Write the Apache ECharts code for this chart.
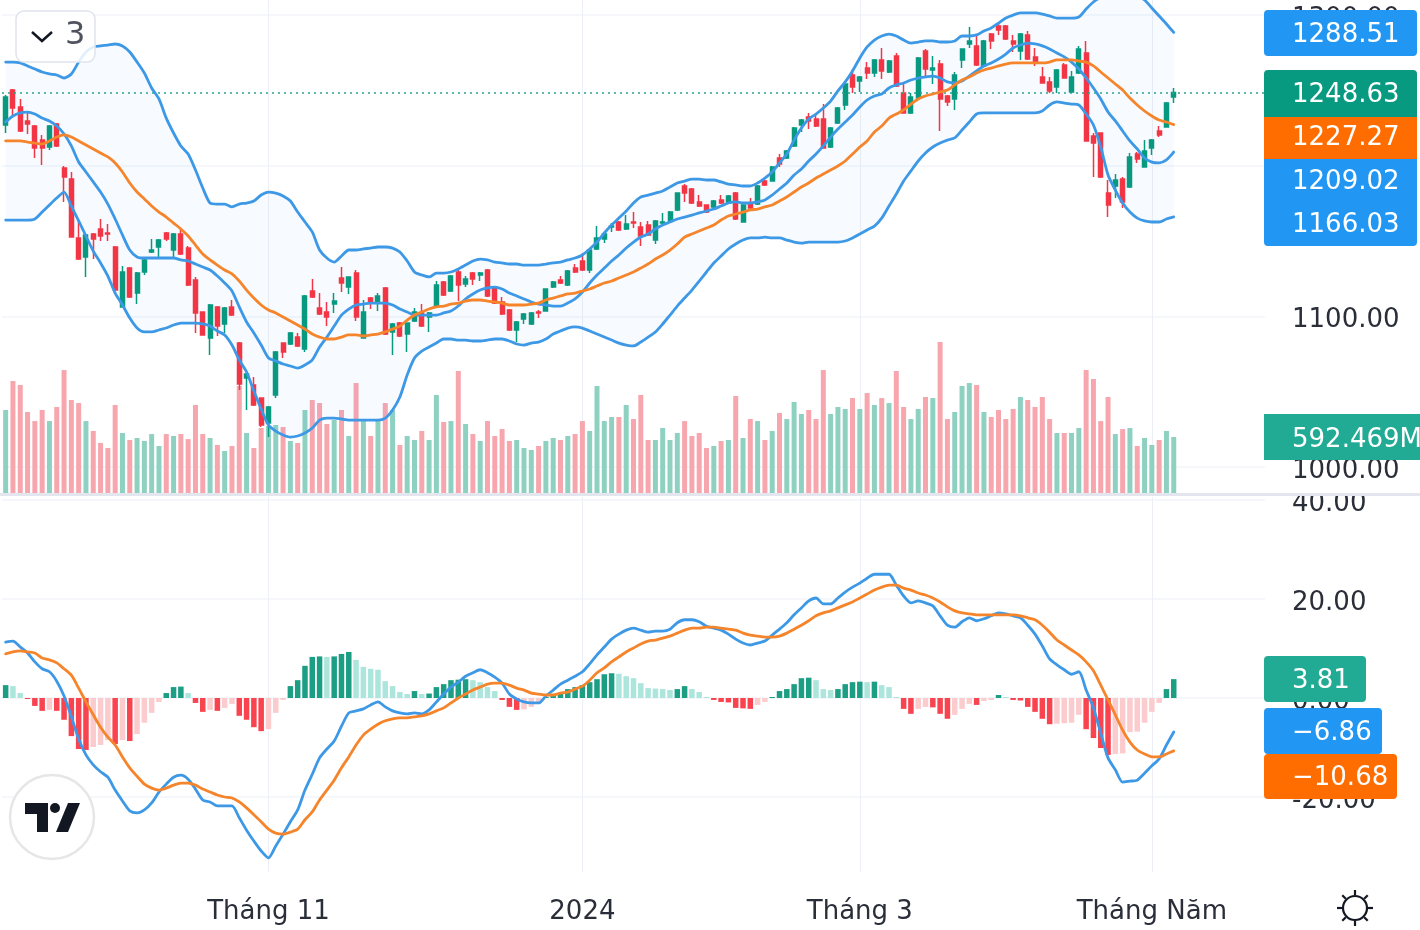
<!DOCTYPE html>
<html>
<head>
<meta charset="utf-8">
<title>VNINDEX</title>
<script src="https://cdn.jsdelivr.net/npm/echarts@6/dist/echarts.min.js"></script>
<style>
  html, body { margin: 0; padding: 0; background: #fff; }
  #chart { width: 1420px; height: 930px; filter: blur(0.5px); }
</style>
</head>
<body>
<div id="chart"></div>
<script>
const tickLabels = { 36: "Tháng 11", 79: "2024", 117: "Tháng 3", 157: "Tháng Năm" };
const priceTicks = [1000, 1100, 1200, 1300];
const macdTicks = [-20, 0, 20, 40];

const opens = [
  1227, 1250.2, 1239, 1229.7, 1226.3, 1217, 1212.4, 1227.7, 1198.4, 1191.1,
  1152, 1139.4, 1154.6, 1158, 1155.3, 1146, 1106.2, 1132, 1115.4, 1129.4,
  1142.7, 1146, 1155.3, 1144, 1154.6, 1145.3, 1124.1, 1102.8, 1085.6, 1106.2,
  1094.9, 1106.2, 1082.2, 1059, 1054.4, 1045.7, 1029.1, 1047.7, 1082.2, 1081.6,
  1086.2, 1078.3, 1116.8, 1105.5, 1102.8, 1108.1, 1125.4, 1119.4, 1128.7, 1085.6,
  1112.1, 1109.5, 1118.8, 1089.6, 1095.5, 1088.2, 1096.9, 1102.2, 1099.5, 1106.8,
  1122.8, 1116.8, 1129.4, 1121.4, 1128.7, 1127.4, 1130.7, 1119.4, 1109.5, 1104.2,
  1090.9, 1098.2, 1094.9, 1102.8, 1103.5, 1119.4, 1124.1, 1120.8, 1132, 1136.7,
  1130.7, 1144.7, 1151.3, 1159.3, 1162.6, 1158, 1162.6, 1159.3, 1160.6, 1150.6,
  1161.9, 1163.3, 1170.6, 1186.5, 1184.5, 1175.9, 1173.9, 1172.6, 1177.2, 1175.2,
  1181.8, 1162.6, 1175.2, 1174.5, 1189.8, 1189.8, 1205.1, 1205.1, 1213.1, 1227,
  1232.3, 1231, 1231, 1212.4, 1228.3, 1240.3, 1260.2, 1256.2, 1264.8, 1261.5,
  1270.2, 1262.2, 1272.8, 1248.2, 1235, 1244.9, 1276.1, 1263.5, 1267.5, 1246.3,
  1244.3, 1270.2, 1280.8, 1279.5, 1266.2, 1287.4, 1292.7, 1292.7, 1282.8, 1276.1,
  1286.8, 1272.2, 1258.9, 1255.6, 1252.2, 1266.8, 1248.9, 1261.5, 1274.8, 1219.7,
  1221.7, 1181.8, 1186.5, 1191.1, 1185.8, 1207.7, 1199.1, 1211.7, 1223, 1225.7,
  1245.6,
];
const closes = [
  1245.6, 1238.3, 1223, 1227.7, 1211.7, 1211.7, 1226.3, 1213.1, 1192.5, 1152.6,
  1138, 1154, 1151.3, 1153.3, 1154.6, 1117.4, 1129.4, 1112.8, 1128.7, 1137.4,
  1144, 1150.6, 1151.3, 1154.6, 1141.3, 1120.8, 1102.2, 1087.6, 1107.5, 1093.5,
  1105.5, 1100.8, 1055, 1061.7, 1041.1, 1027.8, 1039.8, 1076.3, 1076.3, 1088.9,
  1080.3, 1113.5, 1112.8, 1101.5, 1099.5, 1110.1, 1122.1, 1126.1, 1099.5, 1102.8,
  1108.8, 1113.5, 1088.2, 1094.9, 1086.9, 1095.5, 1102.8, 1093.5, 1102.2, 1120.8,
  1114.1, 1126.7, 1120.8, 1124.7, 1124.7, 1128.7, 1113.5, 1108.8, 1101.5, 1090.9,
  1096.2, 1101.5, 1102.2, 1102.2, 1118.1, 1122.8, 1122.1, 1130, 1129.4, 1130.7,
  1144, 1152, 1154.6, 1159.9, 1157.3, 1161.3, 1161.9, 1153.3, 1154, 1163.3,
  1162.6, 1169.2, 1181.8, 1181.8, 1175.2, 1173.2, 1169.2, 1176.5, 1175.2, 1179.9,
  1164.6, 1173.9, 1171.9, 1186.5, 1187.2, 1199.1, 1201.1, 1209.7, 1225, 1230.3,
  1229.7, 1226.3, 1211.7, 1225, 1238.3, 1254.2, 1252.2, 1258.9, 1261.5, 1270.2,
  1262.9, 1269.5, 1252.9, 1235, 1245.6, 1271.5, 1264.2, 1264.8, 1244.3, 1242.3,
  1260.2, 1277.5, 1282.8, 1266.8, 1282.8, 1282.8, 1290.1, 1284.1, 1280.8, 1287.4,
  1270.8, 1268.2, 1254.9, 1249.6, 1263.5, 1258.2, 1258.9, 1277.5, 1216.4, 1215,
  1192.5, 1173.9, 1190.5, 1175.9, 1205.8, 1204.4, 1209.7, 1217, 1220.4, 1241.6,
  1248.63,
];
const highs = [
  1246.9, 1250.9, 1244.3, 1235, 1227, 1220.4, 1227, 1228.3, 1199.8, 1195.8,
  1163.9, 1154.6, 1155.3, 1164.6, 1161.3, 1146.7, 1133.4, 1132.7, 1129.4, 1138,
  1151.3, 1151.3, 1156, 1155.3, 1157.3, 1146.7, 1126.1, 1102.8, 1108.1, 1106.8,
  1106.2, 1110.8, 1082.9, 1062.3, 1059.7, 1045.7, 1040.4, 1076.9, 1082.2, 1089.6,
  1088.9, 1114.1, 1124.7, 1115.4, 1109.5, 1115.4, 1132.7, 1126.1, 1130.7, 1110.8,
  1112.8, 1115.4, 1119.4, 1095.5, 1096.2, 1095.5, 1105.5, 1108.1, 1102.8, 1123.4,
  1123.4, 1127.4, 1130.7, 1126.7, 1129.4, 1129.4, 1131.4, 1120.1, 1112.8, 1104.8,
  1096.9, 1102.2, 1102.8, 1104.2, 1118.1, 1123.4, 1126.7, 1130.7, 1134.7, 1142,
  1144.7, 1159.9, 1155.3, 1161.9, 1163.3, 1167.2, 1169.2, 1162.6, 1163.3, 1163.9,
  1168.6, 1169.9, 1181.8, 1187.8, 1185.2, 1180.5, 1173.9, 1177.2, 1180.5, 1180.5,
  1182.5, 1174.5, 1178.5, 1187.2, 1190.5, 1199.8, 1207.7, 1210.4, 1225.7, 1231,
  1235, 1233.6, 1240.9, 1225.7, 1239, 1254.9, 1264.2, 1259.5, 1268.8, 1270.8,
  1278.1, 1270.2, 1274.8, 1254.9, 1248.2, 1272.2, 1277.5, 1272.8, 1270.2, 1246.9,
  1262.2, 1277.5, 1292.1, 1287.4, 1283.4, 1288.1, 1294.7, 1293.4, 1286.8, 1288.1,
  1289.4, 1278.1, 1265.5, 1258.9, 1264.2, 1268.2, 1262.9, 1279.5, 1282.8, 1221.7,
  1221.7, 1190.5, 1194.5, 1192.5, 1208.4, 1209.1, 1217, 1217.7, 1226.3, 1242.3,
  1251.6,
];
const lows = [
  1221.7, 1233.6, 1222.4, 1221, 1205.1, 1200.4, 1210.4, 1212.4, 1175.9, 1152.6,
  1137.4, 1126.1, 1138, 1150, 1150, 1116.8, 1106.2, 1112.1, 1108.1, 1127.4,
  1142, 1139.4, 1150, 1139.4, 1140.7, 1120.1, 1088.9, 1087.6, 1074.3, 1086.9,
  1088.9, 1100.2, 1051, 1037.8, 1040.4, 1026.5, 1019.8, 1045.7, 1072.3, 1080.9,
  1079.6, 1076.3, 1112.1, 1100.8, 1093.5, 1102.2, 1116.1, 1114.8, 1096.9, 1085.6,
  1104.8, 1103.5, 1087.6, 1074.3, 1086.2, 1076.3, 1096.2, 1092.9, 1089.6, 1106.2,
  1113.5, 1116.1, 1110.1, 1119.4, 1120.8, 1123.4, 1112.8, 1108.1, 1100.8, 1090.2,
  1082.9, 1094.9, 1094.2, 1098.8, 1103.5, 1118.8, 1121.4, 1120.1, 1128.7, 1130,
  1128.7, 1144, 1148.6, 1156, 1156.6, 1157.3, 1158.6, 1146.7, 1153.3, 1148,
  1161.3, 1162.6, 1169.9, 1175.9, 1174.5, 1172.6, 1168.6, 1171.9, 1174.5, 1175.2,
  1163.9, 1162.6, 1171.2, 1173.9, 1186.5, 1189.8, 1199.1, 1204.4, 1212.4, 1222.4,
  1224.3, 1225.7, 1211.7, 1211.7, 1227.7, 1237, 1248.2, 1248.9, 1257.5, 1258.9,
  1257.5, 1261.5, 1252.2, 1235, 1234.3, 1244.3, 1258.9, 1254.2, 1223, 1239.6,
  1237, 1264.8, 1278.1, 1266.2, 1265.5, 1277.5, 1286.8, 1283.4, 1275.5, 1270.2,
  1270.2, 1266.2, 1254.9, 1248.2, 1248.2, 1258.2, 1248.2, 1260.9, 1216.4, 1192.5,
  1191.8, 1165.9, 1178.5, 1171.9, 1185.2, 1201.8, 1199.1, 1207.1, 1219, 1225.7,
  1241.6,
];
const bandUpper = [
  1268.8, 1268.8, 1268.2, 1266.2, 1264.2, 1262.2, 1260.9, 1260.2, 1258.2, 1260.9,
  1268.8, 1275.5, 1278.8, 1279.5, 1280.1, 1280.8, 1279.5, 1275.5, 1268.8, 1261.5,
  1251.6, 1244.3, 1231.6, 1221.7, 1213.1, 1207.7, 1197.1, 1185.2, 1175.2, 1174.5,
  1174.5, 1172.6, 1174.5, 1175.2, 1176.5, 1180.5, 1182.5, 1181.8, 1179.9, 1176.5,
  1169.2, 1162.6, 1156, 1144, 1138.7, 1136, 1140, 1144, 1144, 1144.7,
  1145.3, 1146, 1146, 1145.3, 1142.7, 1136.7, 1129.4, 1127.4, 1126.1, 1128.7,
  1128.7, 1129.4, 1131.4, 1134, 1136.7, 1138, 1137.4, 1136, 1135.4, 1134.7,
  1134.7, 1134, 1134, 1134, 1134.7, 1135.4, 1136, 1137.4, 1138.7, 1140.7,
  1144.7, 1149.3, 1155.3, 1160.6, 1165.2, 1169.9, 1175.2, 1179.2, 1180.5, 1181.8,
  1183.2, 1185.8, 1188.5, 1189.8, 1191.1, 1191.1, 1190.5, 1190.5, 1189.2, 1187.8,
  1187.2, 1186.5, 1186.5, 1188.5, 1191.8, 1195.8, 1201.8, 1207.7, 1217, 1225,
  1231, 1234.3, 1238.3, 1242.9, 1249.6, 1255.6, 1262.9, 1271.5, 1278.8, 1283.4,
  1286.1, 1287.4, 1286.1, 1283.4, 1281.4, 1282.1, 1282.8, 1282.8, 1282.1, 1282.1,
  1282.8, 1286.1, 1286.1, 1286.8, 1289.4, 1291.4, 1294.7, 1298, 1300, 1301.4,
  1301.4, 1301.4, 1300.7, 1299.4, 1298, 1298, 1298, 1298.7, 1304, 1308.7,
  1312, 1315.3, 1316.6, 1316.6, 1315.3, 1312.7, 1310, 1304.7, 1299.4, 1294.1,
  1288.51,
];
const bandBasis = [
  1216.4, 1216.4, 1216.4, 1215.7, 1215, 1214.4, 1216.4, 1219, 1220.4, 1219,
  1216.4, 1213.7, 1211.1, 1208.4, 1205.8, 1201.8, 1195.8, 1188.5, 1182.5, 1177.9,
  1173.2, 1169.2, 1165.9, 1161.9, 1158, 1153.3, 1147.3, 1141.3, 1137.4, 1134,
  1130.7, 1128.1, 1123.4, 1117.4, 1112.1, 1107.5, 1104.2, 1102.2, 1099.5, 1096.9,
  1094.2, 1091.5, 1088.2, 1086.2, 1084.9, 1084.9, 1086.2, 1087.6, 1087.6, 1086.9,
  1087.6, 1088.2, 1089.6, 1091.5, 1093.5, 1097.5, 1100.8, 1102.8, 1104.8, 1106.2,
  1106.8, 1108.1, 1108.8, 1110.1, 1110.8, 1110.8, 1110.1, 1109.5, 1108.8, 1107.5,
  1107.5, 1107.5, 1108.1, 1108.8, 1110.8, 1112.1, 1113.5, 1114.8, 1115.4, 1116.8,
  1118.1, 1120.1, 1122.1, 1123.4, 1125.4, 1127.4, 1129.4, 1132, 1134.7, 1138,
  1140.7, 1144, 1148, 1152.6, 1154.6, 1156.6, 1158.6, 1160.6, 1163.9, 1166.6,
  1167.9, 1169.2, 1170.6, 1171.2, 1172.6, 1173.9, 1176.5, 1179.2, 1182.5, 1185.8,
  1188.5, 1191.8, 1194.5, 1197.1, 1199.8, 1203.1, 1207.7, 1212.4, 1216.4, 1222.4,
  1226.3, 1231.6, 1234.3, 1237, 1240.9, 1244.3, 1246.3, 1247.6, 1248.9, 1250.2,
  1253.6, 1256.9, 1258.9, 1261.5, 1263.5, 1264.8, 1266.2, 1267.5, 1268.2, 1268.2,
  1268.2, 1268.2, 1268.2, 1268.8, 1270.2, 1270.2, 1270.2, 1269.5, 1268.8, 1266.2,
  1262.2, 1258.2, 1254.2, 1250.2, 1244.9, 1240.3, 1236.3, 1233, 1230.3, 1229,
  1227.27,
];
const bandLower = [
  1163.9, 1163.9, 1163.9, 1163.9, 1164.6, 1169.2, 1173.9, 1178.5, 1182.5, 1173.2,
  1163.3, 1153.3, 1143.3, 1135.4, 1126.7, 1115.4, 1107.5, 1098.8, 1092.2, 1089.6,
  1089.6, 1090.9, 1092.2, 1094.2, 1095.5, 1095.5, 1095.5, 1094.9, 1093.5, 1090.2,
  1087.6, 1080.9, 1071, 1063, 1050.4, 1038.4, 1027.8, 1023.8, 1021.2, 1019.8,
  1020.5, 1022.5, 1025.8, 1031.1, 1032.4, 1032.4, 1031.8, 1031.1, 1031.1, 1031.1,
  1031.1, 1031.1, 1032.4, 1037.8, 1046.4, 1061, 1072.3, 1076.9, 1079.6, 1082.2,
  1084.9, 1084.9, 1084.2, 1084.2, 1083.6, 1083.6, 1084.2, 1084.9, 1084.9, 1083.6,
  1081.6, 1080.9, 1082.2, 1082.9, 1084.9, 1088.2, 1090.2, 1092.2, 1092.9, 1092.2,
  1090.2, 1088.2, 1086.2, 1084.2, 1082.2, 1080.9, 1080.3, 1082.9, 1086.2, 1089.6,
  1094.9, 1100.8, 1106.8, 1112.1, 1117.4, 1123.4, 1129.4, 1135.4, 1140, 1144.7,
  1148, 1150.6, 1152, 1152, 1152.6, 1152, 1152, 1150.6, 1149.3, 1148.6,
  1149.3, 1149.3, 1149.3, 1149.3, 1149.3, 1150, 1152, 1154.6, 1157.3, 1159.9,
  1165.2, 1173.2, 1181.2, 1189.8, 1196.5, 1203.1, 1208.4, 1212.4, 1215, 1217,
  1218.4, 1223.7, 1229, 1234.3, 1235, 1235, 1235, 1235, 1235, 1235,
  1235, 1235, 1236.3, 1240.3, 1242.3, 1241.6, 1240.9, 1240.3, 1234.3, 1227,
  1212.4, 1193.8, 1183.8, 1175.2, 1169.2, 1165.2, 1163.3, 1162.6, 1162.6, 1164.6,
  1166.03,
];
const innerLine = [
  1229, 1233, 1235, 1235.6, 1234.3, 1231.6, 1229.7, 1226.3, 1221, 1213.1,
  1202.4, 1195.8, 1189.2, 1182.5, 1174.5, 1164.6, 1154, 1144, 1139.4, 1138.7,
  1138.7, 1138.7, 1138.7, 1138.7, 1137.4, 1136.7, 1134.7, 1132.7, 1130.7, 1126.7,
  1122.1, 1116.8, 1106.2, 1096.2, 1088.9, 1080.9, 1072.3, 1070.3, 1068.3, 1067,
  1065.6, 1067.6, 1071, 1079.6, 1086.2, 1093.5, 1100.8, 1104.8, 1107.5, 1108.1,
  1108.8, 1108.8, 1108.8, 1107.5, 1104.8, 1102.8, 1100.8, 1100.8, 1100.8, 1100.8,
  1102.2, 1103.5, 1106.8, 1111.5, 1114.8, 1117.4, 1118.8, 1119.4, 1118.1, 1115.4,
  1113.5, 1111.5, 1109.5, 1108.1, 1107.5, 1106.8, 1106.8, 1108.8, 1111.5, 1116.1,
  1122.1, 1127.4, 1132, 1136.7, 1140.7, 1145.3, 1149.3, 1152.6, 1154.6, 1158,
  1160.6, 1162.6, 1164.6, 1165.9, 1167.2, 1168.6, 1169.9, 1171.2, 1173.2, 1175.2,
  1175.9, 1175.2, 1175.2, 1175.9, 1177.2, 1180.5, 1184.5, 1188.5, 1193.8, 1197.8,
  1203.1, 1207.7, 1213.1, 1219, 1224.3, 1229, 1233.6, 1239, 1243.6, 1246.3,
  1247.6, 1251.6, 1253.6, 1254.9, 1256.9, 1258.2, 1258.9, 1259.5, 1258.2, 1255.6,
  1254.9, 1256.2, 1259.5, 1262.9, 1266.2, 1268.2, 1270.8, 1274.1, 1278.1, 1280.1,
  1281.4, 1280.8, 1279.5, 1277.5, 1274.8, 1272.2, 1268.8, 1264.2, 1258.2, 1251.6,
  1244.3, 1235.6, 1229.7, 1223, 1216.4, 1211.1, 1205.1, 1202.4, 1201.8, 1203.8,
  1209.02,
];
const volumes = [
  873, 1174, 1133, 852, 758, 873, 758, 904, 1288, 977,
  945, 758, 655, 530, 478, 925, 634, 561, 582, 551,
  623, 499, 623, 603, 623, 571, 925, 623, 582, 509,
  447, 499, 1122, 634, 478, 686, 706, 717, 696, 551,
  530, 873, 977, 945, 727, 769, 873, 603, 1153, 758,
  603, 769, 945, 873, 509, 603, 561, 655, 561, 1029,
  748, 758, 1278, 727, 623, 551, 758, 603, 675, 551,
  561, 478, 457, 499, 551, 582, 561, 603, 623, 758,
  655, 1122, 758, 800, 800, 925, 779, 1029, 561, 561,
  686, 561, 634, 758, 603, 634, 478, 499, 551, 561,
  1018, 582, 779, 758, 561, 655, 842, 779, 956, 831,
  873, 779, 1288, 831, 904, 883, 997, 883, 1049, 925,
  997, 945, 1278, 904, 779, 883, 1008, 997, 1579, 779,
  852, 1122, 1153, 1133, 852, 800, 873, 779, 883, 1008,
  977, 904, 1008, 779, 634, 634, 634, 686, 1288, 1195,
  758, 1008, 623, 675, 686, 499, 582, 509, 561, 655,
  592.469,
];
const macdLine = [
  11.3, 11.5, 10.3, 9.1, 7.3, 5.9, 5.3, 3.4, 0.4, -3.8,
  -8.3, -11.5, -13.5, -14.9, -16, -18.6, -20.8, -22.8, -23.2, -22.6,
  -21.2, -19, -17.4, -16, -15.6, -16.4, -18.4, -20.6, -21, -21.8,
  -21.8, -21.8, -24.2, -26.7, -28.9, -30.9, -32.3, -29.9, -27.5, -25,
  -22.6, -18.6, -15.4, -12.1, -10.3, -8.7, -5.7, -3, -2.6, -2.2,
  -1.4, -0.8, -1.8, -2.6, -3, -3.2, -3, -3.2, -2.4, -0.8,
  0.8, 2.2, 3.2, 4.4, 5.1, 5.7, 5.1, 4.2, 3, 0.8,
  -0.2, -0.8, -1, -1, 0.4, 1.6, 2.8, 3.6, 4.4, 5.3,
  6.9, 8.7, 10.3, 11.9, 12.9, 13.7, 14.1, 13.7, 13.3, 13.5,
  13.5, 13.9, 15.2, 15.8, 15.8, 15.4, 14.5, 14.1, 13.7, 12.9,
  11.9, 11.1, 10.7, 11.1, 11.5, 12.7, 13.9, 15.2, 16.8, 18.2,
  19.6, 20.2, 19, 19, 20.2, 21.4, 22.4, 23.2, 24.2, 25,
  25, 25, 22.8, 20.6, 19.2, 19.6, 19.2, 18.6, 16.6, 14.7,
  14.3, 15.4, 16.2, 15.6, 16, 16.6, 17.2, 17, 16.6, 16.2,
  14.7, 12.9, 10.5, 7.9, 6.7, 5.7, 4.8, 5.3, 1.6, -2,
  -7.1, -12.1, -14.5, -17, -16.8, -16.6, -15.2, -13.7, -12.3, -9.5,
  -6.86,
];
const signalLine = [
  8.9, 9.3, 9.5, 9.3, 9.1, 8.1, 7.7, 7.1, 5.9, 4.6,
  2, -0.8, -3.4, -5.9, -7.9, -9.5, -11.9, -14.1, -15.8, -17.4,
  -18.2, -18.6, -18.2, -17.6, -17.2, -17.2, -17.6, -18.4, -19, -19.6,
  -20, -20.2, -21, -22.2, -23.6, -25, -26.5, -27.3, -27.5, -27.1,
  -26.5, -24.6, -23, -20.6, -18.6, -16.6, -14.1, -11.9, -9.5, -7.5,
  -6.3, -5.3, -4.6, -4.2, -4, -4, -3.8, -3.6, -3.2, -2.6,
  -2, -1, 0, 0.8, 1.6, 2.2, 2.8, 3, 3, 2.6,
  2, 1.6, 1, 0.8, 0.6, 0.6, 1, 1.2, 1.8, 2.4,
  3.6, 5.1, 6.1, 7.3, 8.3, 9.3, 10.1, 10.9, 11.5, 11.7,
  12.1, 12.5, 13.1, 13.7, 14.1, 14.1, 14.3, 14.3, 14.1, 13.9,
  13.7, 13.1, 12.7, 12.5, 12.3, 12.3, 12.5, 13.1, 13.9, 14.7,
  15.6, 16.6, 17.2, 17.6, 18.2, 18.8, 19.4, 20.2, 21, 21.8,
  22.4, 22.8, 22.8, 22.2, 21.8, 21.2, 20.8, 20.2, 19.4, 18.4,
  17.6, 17.2, 17, 16.8, 16.8, 16.8, 16.8, 16.8, 16.8, 16.6,
  16.2, 15.8, 14.7, 13.3, 11.7, 10.7, 9.7, 8.7, 7.3, 5.5,
  2.6, -0.4, -3.4, -6.5, -8.9, -10.5, -11.3, -11.9, -11.9, -11.3,
  -10.68,
];
const macdHist = [
  2.6, 2.4, 1, -0.2, -1.6, -2.6, -2.4, -2.6, -4.4, -7.7,
  -10.3, -10.5, -9.9, -9.5, -8.5, -9.3, -8.5, -8.7, -7.3, -5,
  -3, -0.8, 1, 2.2, 2.3, 1, -1, -2.8, -2.4, -2.6,
  -2, -1.2, -3.6, -4.4, -5.9, -6.7, -6.3, -3, -0.4, 2.4,
  3.6, 6.5, 8.3, 8.4, 8.3, 8.4, 8.9, 9.3, 7.7, 6.3,
  5.9, 5.7, 3.4, 2.4, 1.2, 0.8, 1.4, 0.8, 0.9, 2.2,
  2.8, 3.6, 3.7, 3.8, 3.6, 3.2, 2.2, 1.4, -0.4, -1.8,
  -2.4, -2.3, -1.8, -1.2, 0.2, 0.8, 1, 1.8, 2.2, 2.6,
  3.2, 3.8, 4.8, 5, 4.9, 4.4, 4, 3, 2, 1.9,
  1.8, 1.6, 1.8, 2.4, 1.8, 1.2, 0.2, -0.4, -0.8, -0.9,
  -2, -2.1, -2.2, -1.4, -0.8, 0.2, 1.4, 1.8, 2.8, 4,
  4.1, 3.6, 1.8, 1.6, 1.8, 2.8, 3.2, 3.3, 3.2, 3.3,
  2.6, 2.2, 0.2, -2.2, -3.2, -2.2, -1.8, -1.9, -3.2, -4.2,
  -3.4, -2.2, -1.2, -1.4, -0.6, -0.4, 0.6, 0.2, -0.4, -0.5,
  -1.8, -2.8, -4.2, -5.3, -5.2, -5.1, -5, -3.4, -6.3, -8.1,
  -10.1, -11.5, -11.3, -11.2, -6.9, -6.8, -5, -2.8, -1, 1.8,
  3.81,
];
const priceTags = ["1288.51", "1248.63", "1227.27", "1209.02", "1166.03"];
const volumeTag = "592.469M";
const macdTags = ["3.81", "−6.86", "−10.68"];

// the time scale runs on past the last bar
const barCount = 173;
const categories = Array.from({ length: barCount }, (_, i) => String(i));

const UP = "#089981";
const DOWN = "#f23645";
const BLUE = "#3d98e6";
const ORANGE = "#f5842b";
const GRID_LINE = "#f2f4f9";
const TEXT = "#2a2e39";
const FONT = "DejaVu Sans";

const isTick = (i) => tickLabels[i] !== undefined;

const candles = closes.map((c, i) => [opens[i], c, lows[i], highs[i]]);
const bandGap = bandUpper.map((v, i) => +(v - bandLower[i]).toFixed(2));

const volumeBars = volumes.map((v, i) => ({
  value: v,
  itemStyle: { color: closes[i] >= opens[i] ? "#8fd1c1" : "#f8a6ae" },
}));

const histBars = macdHist.map((v, i) => {
  const prev = i > 0 ? macdHist[i - 1] : v;
  let color;
  if (v >= 0) {
    color = v >= prev ? "#1b9e83" : "#ace5dc";
  } else {
    color = v < prev ? "#f9434f" : "#fccbcd";
  }
  return { value: v, itemStyle: { color } };
});

function lineSeries(name, values, color, xAxisIndex, yAxisIndex) {
  return {
    name,
    type: "line",
    data: values,
    xAxisIndex,
    yAxisIndex,
    symbol: "none",
    smooth: 0.25,
    z: 5,
    lineStyle: { color, width: 2.8, cap: "round", join: "round" },
  };
}

function timeAxis(gridIndex, withLabels) {
  return {
    type: "category",
    gridIndex,
    data: categories,
    axisLine: { show: false },
    axisTick: { show: false, alignWithLabel: true, interval: (i) => isTick(i) },
    splitLine: {
      show: true,
      alignWithLabel: true,
      interval: (i) => isTick(i),
      lineStyle: { color: "#eceff5", width: 1 },
    },
    axisLabel: {
      show: withLabels,
      interval: (i) => isTick(i),
      formatter: (v) => tickLabels[v] || "",
      margin: 27,
      color: TEXT,
      fontFamily: FONT,
      fontSize: 26,
    },
  };
}

function valueAxis(gridIndex, min, max, ticks) {
  return {
    type: "value",
    gridIndex,
    position: "right",
    min,
    max,
    axisLine: { show: false },
    axisTick: { show: false, customValues: ticks },
    splitLine: { show: true, lineStyle: { color: GRID_LINE, width: 1.5 } },
    axisLabel: {
      customValues: ticks,
      margin: 27,
      // a short line box hung from the tick puts the digits level with the grid line
      verticalAlign: "top",
      lineHeight: 8,
      color: TEXT,
      fontFamily: FONT,
      fontSize: 26,
      formatter: (v) => v.toFixed(2),
    },
  };
}

function tagBox(x, y, w, h, color, r) {
  return { type: "rect", z: 50, shape: { x, y, width: w, height: h, r }, style: { fill: color } };
}

function tagText(text, y) {
  return {
    type: "text",
    z: 51,
    x: 1292,
    y,
    style: { text, fill: "#fff", font: `26px "${FONT}"`, textVerticalAlign: "middle" },
  };
}

function sunRays(cx, cy) {
  const rays = [];
  for (let i = 0; i < 8; i++) {
    const a = (i * Math.PI) / 4;
    rays.push({
      type: "line",
      z: 50,
      shape: {
        x1: cx + Math.cos(a) * 13,
        y1: cy + Math.sin(a) * 13,
        x2: cx + Math.cos(a) * 18,
        y2: cy + Math.sin(a) * 18,
      },
      style: { stroke: "#131722", lineWidth: 2.2 },
    });
  }
  return rays;
}

const overlay = [
  // pane divider, it also cuts the top of the 40.00 label
  { type: "rect", z: 40, shape: { x: 1265, y: 484, width: 155, height: 9 }, style: { fill: "#fff" } },
  { type: "rect", z: 41, shape: { x: 0, y: 493, width: 1420, height: 3 }, style: { fill: "#e4e6ef" } },

  tagBox(1264, 10, 153, 46, "#2196f3", 4),
  tagText(priceTags[0], 35),
  tagBox(1264, 70, 153, 47, "#089981", [4, 4, 0, 0]),
  tagText(priceTags[1], 95),
  tagBox(1264, 159, 153, 87, "#2196f3", [0, 0, 4, 4]),
  tagBox(1264, 117, 153, 42, "#ff6d00", 0),
  tagText(priceTags[2], 138),
  tagText(priceTags[3], 182),
  tagText(priceTags[4], 225),
  tagBox(1264, 414, 156, 46, "#22ab94", 0),
  tagText(volumeTag, 440),
  tagBox(1264, 656, 102, 46, "#22ab94", 4),
  tagText(macdTags[0], 681),
  tagBox(1264, 708, 118, 46, "#2196f3", 4),
  tagText(macdTags[1], 733),
  tagBox(1264, 754, 133, 45, "#ff6d00", 4),
  tagText(macdTags[2], 778),

  // collapse button
  {
    type: "rect",
    z: 50,
    shape: { x: 16, y: 11, width: 79, height: 51, r: 8 },
    style: { fill: "rgba(255,255,255,0.85)", stroke: "#e0e3eb", lineWidth: 1.5 },
  },
  {
    type: "polyline",
    z: 51,
    shape: { points: [[32, 32], [42, 41], [52, 32]] },
    style: { stroke: "#131722", lineWidth: 2.5, fill: null },
  },
  { type: "text", z: 51, x: 65, y: 36, style: { text: "3", fill: "#50535e", font: `32px "${FONT}"`, textVerticalAlign: "middle" } },

  // logo
  { type: "circle", z: 50, shape: { cx: 52, cy: 817, r: 42 }, style: { fill: "#fff", stroke: "#e6e6e6", lineWidth: 2.5 } },
  { type: "polygon", z: 51, shape: { points: [[25, 803], [48, 803], [48, 832], [37, 832], [37, 814], [25, 814]] }, style: { fill: "#131722" } },
  { type: "circle", z: 51, shape: { cx: 55, cy: 808, r: 5 }, style: { fill: "#131722" } },
  { type: "polygon", z: 51, shape: { points: [[68, 803], [80, 803], [68, 832], [56, 832]] }, style: { fill: "#131722" } },

  // sun icon
  { type: "circle", z: 50, shape: { cx: 1355, cy: 908, r: 12 }, style: { fill: "#fff", stroke: "#131722", lineWidth: 2.2 } },
  ...sunRays(1355, 908),
];

const chart = echarts.init(document.getElementById("chart"));

chart.setOption({
  animation: false,
  backgroundColor: "#fff",
  grid: [
    { left: 2, width: 1263, top: 0, height: 494 },
    { left: 2, width: 1263, top: 497, height: 375 },
  ],
  xAxis: [timeAxis(0, false), timeAxis(1, true)],
  yAxis: [
    valueAxis(0, 982, 1310, priceTicks),
    { type: "value", gridIndex: 0, min: 0, max: 5133, show: false },
    valueAxis(1, -35.15, 40.6, macdTicks),
  ],
  series: [
    {
      name: "Volume",
      type: "bar",
      xAxisIndex: 0,
      yAxisIndex: 1,
      data: volumeBars,
      barWidth: 5,
      z: 1,
    },
    {
      name: "bandBase",
      type: "line",
      stack: "band",
      xAxisIndex: 0,
      yAxisIndex: 0,
      data: bandLower,
      symbol: "none",
      smooth: 0.25,
      lineStyle: { opacity: 0 },
      z: 2,
    },
    {
      name: "bandFill",
      type: "line",
      stack: "band",
      xAxisIndex: 0,
      yAxisIndex: 0,
      data: bandGap,
      symbol: "none",
      smooth: 0.25,
      lineStyle: { opacity: 0 },
      areaStyle: { color: "rgba(33,150,243,0.05)" },
      z: 2,
    },
    {
      name: "Price",
      type: "candlestick",
      xAxisIndex: 0,
      yAxisIndex: 0,
      data: candles,
      barWidth: 4.5,
      z: 4,
      itemStyle: {
        color: UP,
        color0: DOWN,
        borderColor: UP,
        borderColor0: DOWN,
        borderWidth: 1.5,
      },
      markLine: {
        silent: true,
        symbol: "none",
        label: { show: false },
        lineStyle: { color: "#2aa58f", type: [2, 4], width: 1.6 },
        data: [{ yAxis: closes[closes.length - 1] }],
      },
    },
    lineSeries("Upper", bandUpper, BLUE, 0, 0),
    lineSeries("Lower", bandLower, BLUE, 0, 0),
    lineSeries("Inner", innerLine, BLUE, 0, 0),
    lineSeries("Basis", bandBasis, ORANGE, 0, 0),
    {
      name: "Histogram",
      type: "bar",
      xAxisIndex: 1,
      yAxisIndex: 2,
      data: histBars,
      barWidth: 5.5,
      z: 1,
    },
    lineSeries("MACD", macdLine, BLUE, 1, 2),
    lineSeries("Signal", signalLine, ORANGE, 1, 2),
  ],
  graphic: { elements: overlay },
});
</script>
</body>
</html>
